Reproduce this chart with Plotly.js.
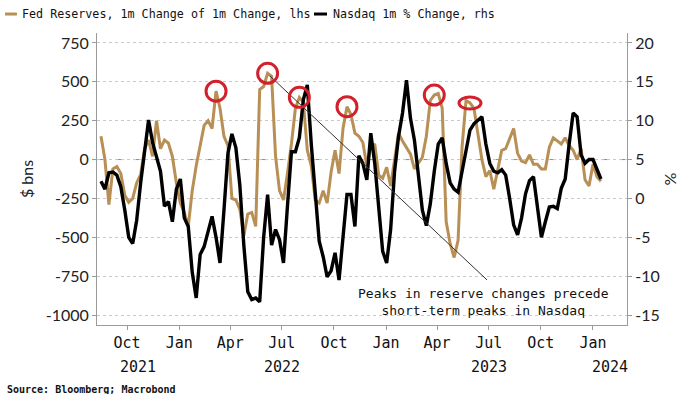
<!DOCTYPE html>
<html><head><meta charset="utf-8">
<script src="https://cdn.plot.ly/plotly-3.0.1.min.js"></script>
<style>html,body{margin:0;padding:0;background:#fff}#chart{width:700px;height:394px}</style>
</head><body><div id="chart"></div>
<script>
// ---- data ----
const startDate = '2021-08-16'; // first weekly observation
const fedReserves = [150,0,-290,-60,-45,-90,-230,-275,-250,-150,
-95,70,125,20,250,70,125,105,20,-150,
-280,-340,-430,-200,-40,100,220,250,200,440,
330,150,90,-250,-260,-320,-490,-350,-340,-430,
450,470,555,535,20,-200,-260,-90,100,330,
400,370,60,-40,-260,-280,-200,-280,-80,60,
-90,200,340,290,170,150,110,-40,80,100,
-100,-120,-50,-170,10,170,120,75,35,-60,
-20,15,150,380,415,425,330,-400,-540,-630,
-520,80,380,364,330,150,0,-110,-70,-190,
-60,60,70,140,200,40,-10,-20,30,-30,
-30,-60,-60,80,140,120,100,140,90,60,
0,70,-130,-170,-30,-110,-140];
const nasdaq = [2.2,1.2,3.3,3.4,3.0,1.5,-1.5,-5.0,-5.8,-2.8,
2.0,6.5,10.1,7.2,5.5,3.5,-1.0,-0.4,-3.0,1.2,
2.5,-2.5,-3.6,-9.5,-12.8,-7.2,-6.2,-4.3,-2.3,-5.0,
-8.3,-1.5,5.8,8.3,6.5,1.7,-6.0,-12.0,-13.0,-12.8,
-13.3,-5.0,0.5,-6.0,-4.0,-5.3,-8.3,-1.0,6.0,6.0,
7.8,12.7,14.6,7.0,1.0,-5.5,-7.5,-10.1,-9.3,-7.0,
-10.5,-5.0,0.5,0.5,-3.6,5.5,4.5,2.4,8.4,4.5,
-1.0,-6.8,-8.3,-4.0,3.5,8.0,11.0,15.2,10.3,7.5,
3.0,-1.5,-3.5,-0.7,3.5,7.0,7.8,4.5,2.0,1.2,
0.8,3.5,6.3,8.8,9.6,10.0,10.5,7.0,4.5,3.5,
3.3,3.7,3.0,0.0,-3.4,-4.7,-2.5,0.6,2.3,2.8,
-1.0,-5.0,-3.0,-1.1,-1.0,-1.3,1.3,2.5,7.0,11.0,
10.5,5.6,4.5,5.0,5.0,3.8,2.5];
const peakIdx = [29,42,50,62,84,93];
const monthTickDates = ['2021-10-01','2022-01-01','2022-04-01','2022-07-01','2022-10-01','2023-01-01','2023-04-01','2023-07-01','2023-10-01','2024-01-01'];
const monthTickLabels = ['Oct','Jan','Apr','Jul','Oct','Jan','Apr','Jul','Oct','Jan'];
const yearLabels = ['2021','2022','2023','2024'];
const leftTicks = [750,500,250,0,-250,-500,-750,-1000];
const leftTickLabels = ['750','500','250','0','-250','-500','-750','-1000'];
const rightTicks = [20,15,10,5,0,-5,-10,-15];
const rightTickLabels = ['20','15','10','5','0','-5','-10','-15'];
const legendNames = ['Fed Reserves, 1m Change of 1m Change, lhs','Nasdaq 1m % Change, rhs'];
const noteText = 'Peaks in reserve changes precede<br>short-term peaks in Nasdaq';
const sourceText = 'Source: Bloomberg; Macrobond';

function weekly(start, n){
  const out=[]; const d0=new Date(start+'T00:00:00Z');
  for(let i=0;i<n;i++){ out.push(new Date(d0.getTime()+i*7*86400000).toISOString().slice(0,10)); }
  return out;
}
const dates = weekly(startDate, fedReserves.length);

const TAN = '#b88f55', RED = '#d2202c', GRID = '#c9c9c9', AX = '#9a9a9a';
const MONO = '"DejaVu Sans Mono", monospace';
const SANS = 'Lato, "Liberation Sans", sans-serif';

const traces = [
  {x: dates, y: fedReserves, type:'scatter', mode:'lines', name: legendNames[0], yaxis:'y',
   line:{color:TAN, width:3}, showlegend:false},
  {x: dates, y: nasdaq, type:'scatter', mode:'lines', name: legendNames[1], yaxis:'y2',
   line:{color:'#000', width:3.4}, showlegend:false}
];

const shapes = [
  {type:'line', xref:'paper', x0:0, x1:1, yref:'y', y0:0, y1:0, line:{color:'#8c8c8c', width:1, dash:'dash'}, layer:'below'},
  // legend samples
  {type:'line', xref:'paper', yref:'paper', x0:-0.1736, x1:-0.151, y0:1.065, y1:1.065, line:{color:TAN, width:3}},
  {type:'line', xref:'paper', yref:'paper', x0:0.4094, x1:0.434, y0:1.065, y1:1.065, line:{color:'#000', width:3}},
  // pointer line
  {type:'line', xref:'x', yref:'y', x0:'2022-06-10', y0:538, x1:'2023-06-28', y1:-774, line:{color:'#333', width:1}}
];
peakIdx.forEach((i,k)=>{
  const wide = (k===peakIdx.length-1);
  shapes.push({type:'circle', xref:'x', yref:'y', xsizemode:'pixel', ysizemode:'pixel',
    xanchor: dates[i], yanchor: fedReserves[i],
    x0: wide?-11:-10, x1: wide?11:10, y0: wide?-6:-10, y1: wide?6:10,
    line:{color:RED, width:3}, layer:'above'});
});

const annotations = [
  {xref:'paper', yref:'paper', x:-0.1453, y:1.065, xanchor:'left', yanchor:'middle', showarrow:false,
   text: legendNames[0], font:{family:MONO, size:11.7, color:'#111'}},
  {xref:'paper', yref:'paper', x:0.4415, y:1.065, xanchor:'left', yanchor:'middle', showarrow:false,
   text: legendNames[1], font:{family:MONO, size:11.7, color:'#111'}},
  {xref:'x', yref:'y', x:'2023-06-21', y:-916, xanchor:'center', yanchor:'middle', showarrow:false,
   text: noteText, align:'center', font:{family:MONO, size:13, color:'#111'}},
  {xref:'paper', yref:'paper', x:-0.1736, y:-0.1935, xanchor:'left', yanchor:'top', showarrow:false,
   text: '<b>'+sourceText+'</b>', font:{family:MONO, size:10, color:'#111'}}
];
const yearPos = ['2021-10-20','2022-07-02','2023-07-02','2024-01-31'];
yearLabels.forEach((t,k)=>annotations.push({xref:'x', yref:'paper', x:yearPos[k], y:-0.144, xanchor:'center', yanchor:'middle',
  showarrow:false, text:t, font:{family:MONO, size:15, color:'#111'}}));

const layout = {
  width:700, height:394,
  margin:{l:97, r:73, t:33, b:69},
  paper_bgcolor:'#fff', plot_bgcolor:'#fff',
  showlegend:false,
  xaxis:{type:'date', range:['2021-08-09','2024-03-01'], tickvals: monthTickDates, ticktext: monthTickLabels,
    showgrid:false, showline:true, linecolor:AX, linewidth:1, ticks:'outside', ticklen:4, tickcolor:AX,
    tickfont:{family:MONO, size:15, color:'#111'}, zeroline:false},
  yaxis:{range:[-1064, 814], tickvals:leftTicks, ticktext:leftTickLabels, showgrid:true, gridcolor:GRID, griddash:'dot', gridwidth:1,
    showline:true, linecolor:AX, ticks:'outside', ticklen:4, tickcolor:AX, zeroline:false,
    tickfont:{family:SANS, size:16, color:'#222'},
    title:{text:'$ bns', font:{family:SANS, size:16, color:'#222'}, standoff:8}},
  yaxis2:{range:[-16.28, 21.28], overlaying:'y', side:'right', tickvals:rightTicks, ticktext:rightTickLabels,
    showgrid:false, showline:true, linecolor:AX, ticks:'outside', ticklen:4, tickcolor:AX, zeroline:false,
    tickfont:{family:SANS, size:16, color:'#222'},
    title:{text:'%', font:{family:SANS, size:16, color:'#222'}, standoff:6}},
  shapes: shapes,
  annotations: annotations
};
Plotly.newPlot('chart', traces, layout, {displayModeBar:false, staticPlot:true});
</script></body></html>
